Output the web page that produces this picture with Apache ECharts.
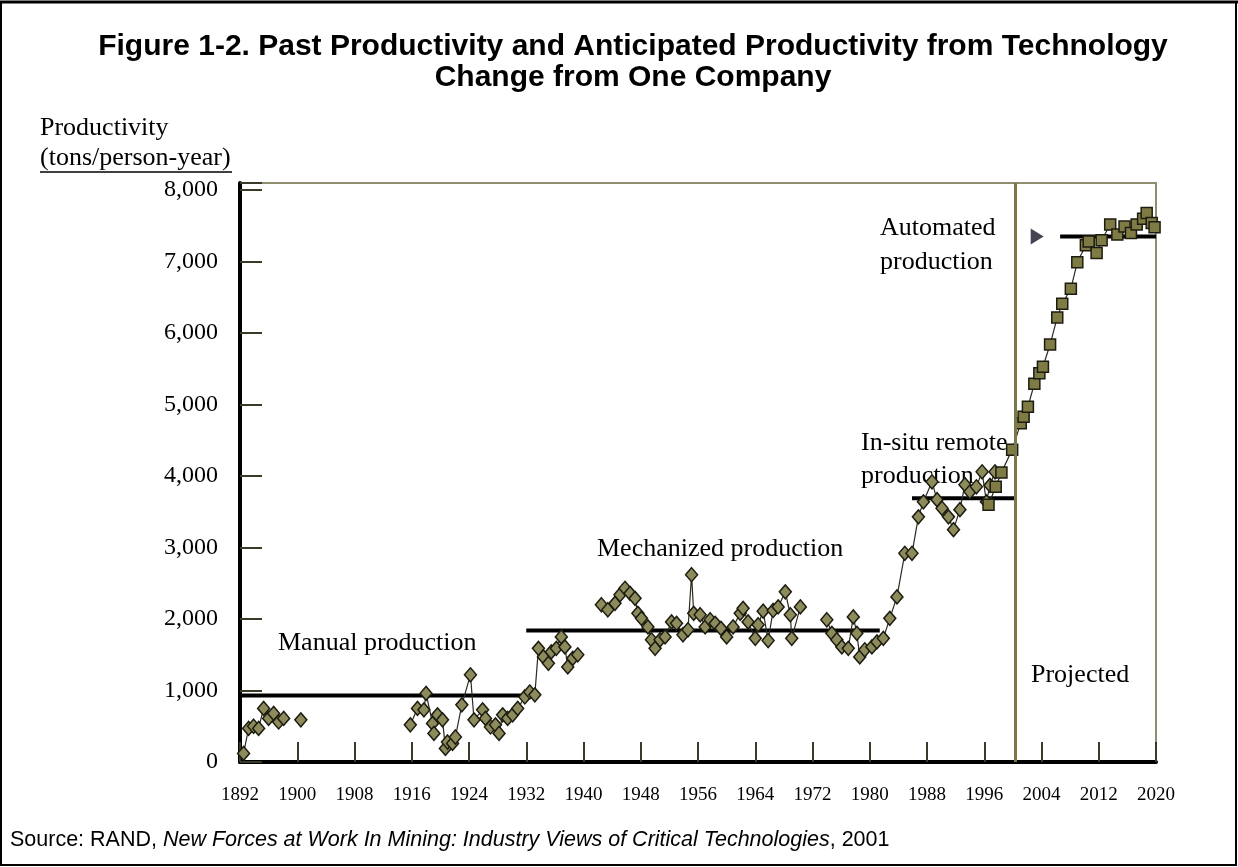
<!DOCTYPE html>
<html>
<head>
<meta charset="utf-8">
<script src="https://cdn.jsdelivr.net/npm/echarts@6/dist/echarts.min.js"></script>
<style>
html,body{margin:0;padding:0;background:#fff;}
#chart{width:1238px;height:867px;}
</style>
</head>
<body>
<div id="chart"></div>
<script>
// ---- data ----
const xTickYears = [1892, 1900, 1908, 1916, 1924, 1932, 1940, 1948, 1956, 1964, 1972, 1980, 1988, 1996, 2004, 2012, 2020];
const yTickValues = [0, 1000, 2000, 3000, 4000, 5000, 6000, 7000, 8000];

// historical productivity (diamonds); null = gap in the record
const histYears = [
  1892.5, 1893.2, 1893.9, 1894.6, 1895.3, 1896.0, 1896.7, 1897.4, 1898.1, 1899.3,
  1900.5, 1908.0,
  1915.8, 1916.8, 1917.7, 1918.0, 1918.9, 1919.1, 1919.6, 1920.3, 1920.7, 1921.0,
  1921.7, 1922.1, 1923.0, 1924.2, 1924.7, 1925.9, 1926.3, 1927.0, 1927.7, 1928.2,
  1928.7, 1929.4, 1930.1, 1930.8, 1931.8, 1932.5, 1933.2, 1933.7, 1934.4, 1935.1,
  1935.5, 1936.2, 1936.9, 1937.4, 1937.8, 1938.5, 1939.2, 1940.8,
  1942.5, 1943.4, 1944.4, 1945.1, 1945.8, 1946.5, 1947.2, 1947.6, 1948.1, 1949.0,
  1949.5, 1950.0, 1950.7, 1951.4, 1952.3, 1953.0, 1953.9, 1954.6, 1955.1, 1955.4,
  1956.3, 1957.0, 1957.7, 1958.4, 1959.2, 1960.0, 1960.9, 1961.9, 1962.3, 1963.0,
  1964.0, 1964.4, 1965.1, 1965.8, 1966.5, 1967.2, 1968.2, 1968.9, 1969.1, 1970.3,
  1972.0,
  1974.0, 1974.7, 1975.4, 1976.1, 1977.0, 1977.7, 1978.2, 1978.6, 1979.3, 1980.3,
  1981.0, 1981.9, 1982.8, 1983.8, 1984.9, 1985.9, 1986.8, 1987.5, 1988.7, 1989.4,
  1990.1, 1991.0, 1991.7, 1992.6, 1993.3, 1994.0, 1994.9, 1995.7, 1996.3, 1996.8,
  1997.5
];
const histValues = [
  120, 470, 500, 470, 750, 610, 680, 560, 610, null,
  590, null,
  520, 750, 730, 960, 540, 400, 660, 590, 190, 280,
  260, 350, 800, 1220, 590, 730, 610, 490, 520, 400,
  660, 610, 660, 750, 910, 980, 940, 1590, 1470, 1380,
  1540, 1590, 1750, 1610, 1330, 1450, 1500, null,
  2200, 2130, 2220, 2340, 2430, 2360, 2290, 2080, 2010, 1890,
  1710, 1590, 1710, 1750, 1960, 1940, 1780, 1850, 2620, 2080,
  2060, 1890, 1990, 1940, 1870, 1750, 1890, 2080, 2150, 1960,
  1730, 1920, 2110, 1700, 2120, 2170, 2380, 2060, 1730, 2170,
  null,
  1990, 1800, 1710, 1610, 1590, 2030, 1800, 1470, 1570, 1610,
  1680, 1730, 2010, 2310, 2920, 2920, 3430, 3640, 3920, 3670,
  3550, 3430, 3250, 3530, 3880, 3780, 3850, 4060, 3640, 3870,
  4060
];

// projected productivity (squares)
const projYears = [
  1996.6, 1997.6, 1998.4, 1999.9, 2001.1, 2001.5, 2002.1, 2003.0, 2003.7, 2004.2,
  2005.2, 2006.2, 2006.9, 2008.1, 2009.0, 2010.2, 2010.6, 2011.7, 2012.4, 2013.6,
  2014.6, 2015.6, 2016.5, 2017.3, 2018.2, 2018.7, 2019.4, 2019.8
];
const projValues = [
  3600, 3850, 4050, 4370, 4740, 4830, 4970, 5290, 5440, 5530,
  5840, 6220, 6410, 6620, 6990, 7230, 7280, 7120, 7300, 7520,
  7380, 7490, 7400, 7520, 7600, 7680, 7540, 7480
];

// era level lines
const eraNames  = ['Manual production', 'Mechanized production', 'In-situ remote production', 'Automated production'];
const eraStart  = [1892, 1932, 1985.9, 2006.6];
const eraEnd    = [1932, 1981.4, 2000.4, 2020];
const eraLevel  = [930, 1840, 3690, 7350];
const automatedArrowYear = 2003.4;
const projectedFromYear = 2000.4;

// ---- chart ----
const SERIF = "'Liberation Serif', 'DejaVu Serif', serif";
const SANS = "'Liberation Sans', Arial, sans-serif";

const histData = histYears.map((y, i) => [y, histValues[i]]);
const projData = projYears.map((y, i) => [y, projValues[i]]);

const eraSeries = eraNames.map((n, i) => ({
  name: n,
  type: 'line',
  data: [[eraStart[i], eraLevel[i]], [eraEnd[i], eraLevel[i]]],
  symbol: 'none',
  lineStyle: { color: '#000', width: 4 },
  silent: true,
  z: 3
}));

const chart = echarts.init(document.getElementById('chart'), null, { renderer: 'canvas' });
chart.setOption({
  animation: false,
  backgroundColor: '#fff',
  grid: { left: 240, right: 82, top: 183, bottom: 105, show: true, borderColor: '#8f8f70', borderWidth: 2 },
  xAxis: {
    type: 'value', min: 1892, max: 2020, interval: 8,
    axisLine: { show: true, lineStyle: { color: '#000', width: 4 } },
    axisTick: { show: true, inside: true, length: 20, lineStyle: { color: '#3a3a2a', width: 2 } },
    axisLabel: {
      margin: 24, color: '#000', fontFamily: SERIF, fontSize: 19,
      formatter: v => xTickYears.indexOf(v) >= 0 ? String(v) : ''
    },
    splitLine: { show: false }
  },
  yAxis: {
    type: 'value', min: 0, max: 8100, interval: 1000,
    axisLine: { show: true, lineStyle: { color: '#000', width: 4 } },
    axisTick: { show: true, inside: true, length: 22, lineStyle: { color: '#3a3a2a', width: 2 } },
    axisLabel: {
      margin: 22, color: '#000', fontFamily: SERIF, fontSize: 24,
      formatter: v => yTickValues.indexOf(v) >= 0 ? v.toLocaleString('en-US') : ''
    },
    splitLine: { show: false }
  },
  series: [
    ...eraSeries,
    {
      name: 'Historical',
      type: 'line',
      data: histData,
      connectNulls: false,
      symbol: 'diamond',
      symbolSize: [12, 14],
      showAllSymbol: true,
      itemStyle: { color: '#8d8b5c', borderColor: '#1c1c10', borderWidth: 1.5 },
      lineStyle: { color: '#2a2a20', width: 1.2 },
      z: 4
    },
    {
      name: 'Projected',
      type: 'line',
      data: projData,
      symbol: 'rect',
      symbolSize: 11,
      showAllSymbol: true,
      itemStyle: { color: '#7e7c44', borderColor: '#1c1c10', borderWidth: 1.5 },
      lineStyle: { color: '#2a2a20', width: 1.2 },
      z: 4,
      markLine: {
        silent: true, symbol: 'none', label: { show: false },
        lineStyle: { color: '#7a7848', width: 3, type: 'solid' },
        data: [{ xAxis: projectedFromYear }]
      }
    },
    {
      name: 'Automated arrow',
      type: 'scatter',
      data: [[automatedArrowYear, eraLevel[3]]],
      symbol: 'triangle',
      symbolSize: [16, 13],
      symbolRotate: -90,
      itemStyle: { color: '#15152a' },
      silent: true,
      z: 5
    }
  ],
  graphic: [
    { type: 'rect', shape: { x: 1, y: 2, width: 1235, height: 863 }, style: { fill: 'none', stroke: '#000', lineWidth: 2 }, silent: true },
    { type: 'line', shape: { x1: 0, y1: 2, x2: 1238, y2: 2 }, style: { stroke: '#000', lineWidth: 3 }, silent: true },
    { type: 'text', x: 633, y: 47, style: { text: 'Figure 1-2. Past Productivity and Anticipated Productivity from Technology', font: "bold 30px " + SANS, fill: '#000', align: 'center', verticalAlign: 'middle' } },
    { type: 'text', x: 633, y: 78, style: { text: 'Change from One Company', font: "bold 30px " + SANS, fill: '#000', align: 'center', verticalAlign: 'middle' } },
    { type: 'text', x: 40, y: 128, style: { text: 'Productivity', font: "26px " + SERIF, fill: '#000', align: 'left', verticalAlign: 'middle' } },
    { type: 'text', x: 40, y: 158, style: { text: '(tons/person-year)', font: "26px " + SERIF, fill: '#000', align: 'left', verticalAlign: 'middle' } },
    { type: 'line', shape: { x1: 40, y1: 172, x2: 232, y2: 172 }, style: { stroke: '#000', lineWidth: 1.5 } },
    { type: 'text', x: 278, y: 643, style: { text: 'Manual production', font: "26px " + SERIF, fill: '#000', verticalAlign: 'middle' } },
    { type: 'text', x: 597, y: 549, style: { text: 'Mechanized production', font: "26px " + SERIF, fill: '#000', verticalAlign: 'middle' } },
    { type: 'text', x: 861, y: 443, style: { text: 'In-situ remote', font: "26px " + SERIF, fill: '#000', verticalAlign: 'middle' } },
    { type: 'text', x: 861, y: 476, style: { text: 'production', font: "26px " + SERIF, fill: '#000', verticalAlign: 'middle' } },
    { type: 'text', x: 880, y: 228, style: { text: 'Automated', font: "26px " + SERIF, fill: '#000', verticalAlign: 'middle' } },
    { type: 'text', x: 880, y: 262, style: { text: 'production', font: "26px " + SERIF, fill: '#000', verticalAlign: 'middle' } },
    { type: 'text', x: 1031, y: 675, style: { text: 'Projected', font: "26px " + SERIF, fill: '#000', verticalAlign: 'middle' } },
    { type: 'text', x: 10, y: 840, style: {
        text: '{n|Source: RAND, }{i|New Forces at Work In Mining: Industry Views of Critical Technologies}{n|, 2001}',
        verticalAlign: 'middle',
        rich: {
          n: { fontFamily: SANS, fontSize: 21.5, fill: '#000', fontStyle: 'normal' },
          i: { fontFamily: SANS, fontSize: 21.5, fill: '#000', fontStyle: 'italic' }
        }
      } }
  ]
});
</script>
</body>
</html>
